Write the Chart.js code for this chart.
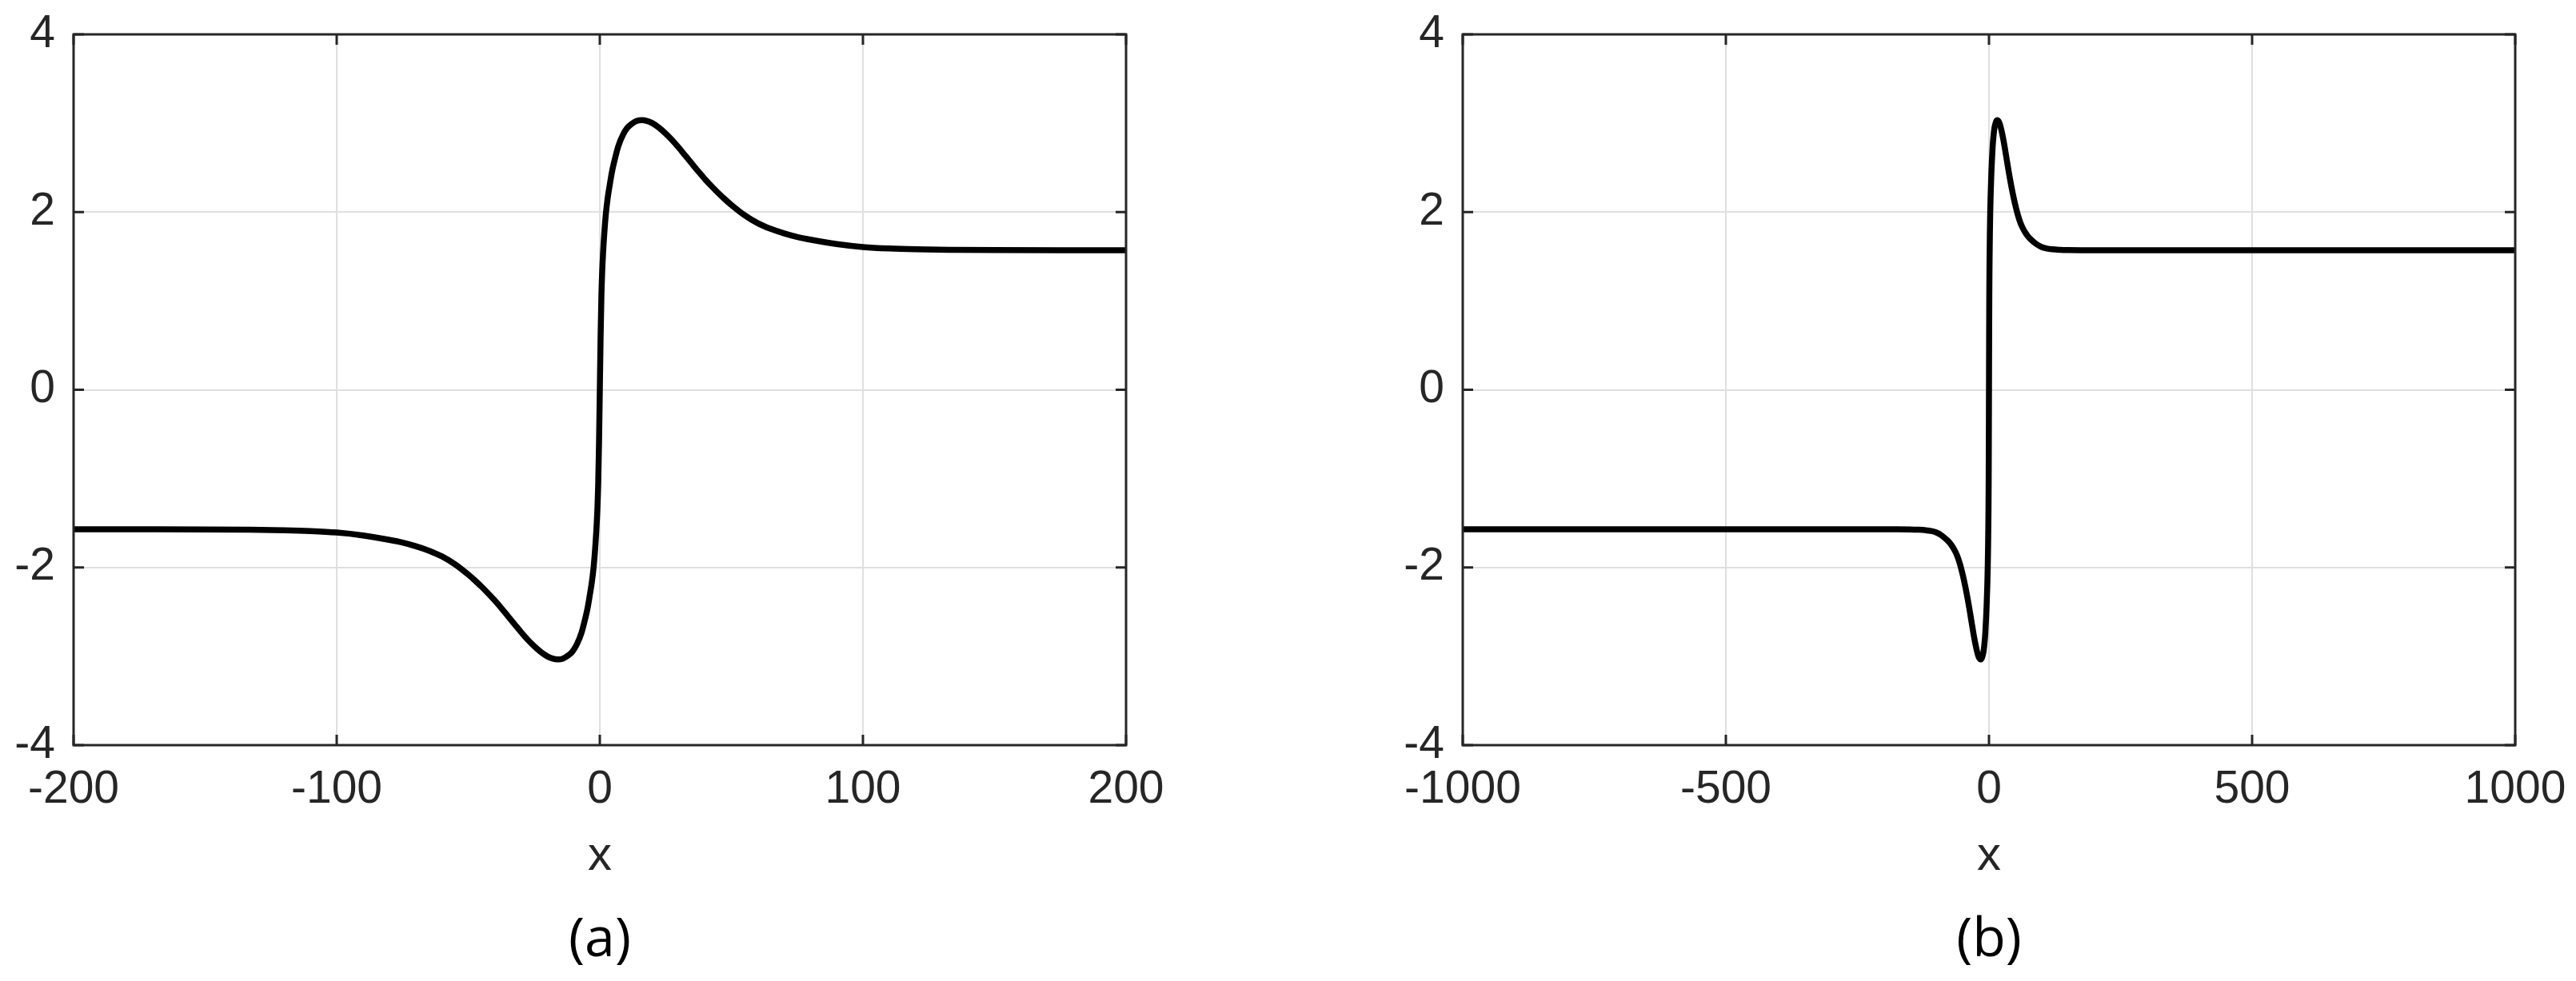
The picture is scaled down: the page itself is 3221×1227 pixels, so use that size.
<!DOCTYPE html>
<html>
<head>
<meta charset="utf-8">
<title>Kink profile</title>
<script src="https://cdn.jsdelivr.net/npm/chart.js@4.4.1/dist/chart.umd.min.js"></script>
<style>
  html, body { margin: 0; padding: 0; background: #fff; }
  #wrap { position: relative; width: 3221px; height: 1227px; overflow: hidden; }
  canvas { position: absolute; top: 0; }
  #chartA { left: 0; }
  #chartB { left: 1610px; }
  .panel-label {
    position: absolute; top: 1170px;
    font-family: 'Open Sans', sans-serif; font-size: 68px; line-height: 1;
    color: #000; transform: translate(-50%, -50%);
  }
</style>
</head>
<body>
<div id="wrap">
  <canvas id="chartA" width="1610" height="1227"></canvas>
  <canvas id="chartB" width="1611" height="1227"></canvas>
  <div class="panel-label" style="left:750px">(a)</div>
  <div class="panel-label" style="left:2487px">(b)</div>
</div>
<script>
// ============================================
// Profile of the same curve on two x ranges
// ============================================

// Curve
const xValues = [
  -200, -175, -150, -135, -120, -110, -100, -90, -80, -75, -70, -65, -60, -55, -50,
  -47.5, -45, -42.5, -40, -37.5, -35, -32.5, -30, -27.5, -25, -22.5, -20, -18, -16,
  -14, -12, -10.5, -8.8, -7, -5.5, -4.6, -3.8, -3, -2.3, -1.7, -1.2, -0.9, -0.6, -0.3,
  0, 0.3, 0.6, 0.9, 1.2, 1.7, 2.3, 3, 3.8, 4.6, 5.5, 7, 8.8, 10.5, 12, 14, 16, 18, 20,
  22.5, 25, 27.5, 30, 32.5, 35, 37.5, 40, 42.5, 45, 47.5, 50, 55, 60, 65, 70, 75, 80,
  90, 100, 110, 120, 135, 150, 175, 200
];
const yValues = [
  -1.571, -1.571, -1.572, -1.575, -1.581, -1.59, -1.607, -1.64, -1.69, -1.72, -1.76, -1.81, -1.875, -1.965, -2.08,
  -2.145, -2.215, -2.29, -2.37, -2.455, -2.545, -2.635, -2.725, -2.81, -2.885, -2.95, -3.00, -3.025, -3.035,
  -3.025, -2.99, -2.95, -2.87, -2.74, -2.57, -2.45, -2.31, -2.16, -1.98, -1.76, -1.52, -1.33, -1.05, -0.60,
  0, 0.60, 1.05, 1.33, 1.52, 1.76, 1.98, 2.16, 2.31, 2.45, 2.57, 2.74, 2.87, 2.95, 2.99, 3.025, 3.035, 3.025, 3.00,
  2.95, 2.885, 2.81, 2.725, 2.635, 2.545, 2.455, 2.37, 2.29, 2.215, 2.145, 2.08, 1.965, 1.875, 1.81, 1.76, 1.72, 1.69,
  1.64, 1.607, 1.59, 1.581, 1.575, 1.572, 1.571, 1.571
];

// Flat tails seen in panel (b)
const tailX = [-1000, 1000];
const tailY = [-1.571, 1.571];

// Axis ranges and ticks
const xRangeA = [-200, 200];
const xStepA = 100;
const xRangeB = [-1000, 1000];
const xStepB = 500;
const yRange = [-4, 4];
const yStep = 2;
const xTitle = 'x';

const AXIS_COLOR = '#262626';
const GRID_COLOR = '#dfdfdf';
const TICK_LEN = 13;
const TICK_FONT = { family: "'Liberation Sans', Arial, sans-serif", size: 57, lineHeight: 1.2 };

// Closed box with inward ticks, drawn over the data
const frameAndTicks = {
  id: 'frameAndTicks',
  afterDatasetsDraw(chart) {
    const { ctx, chartArea: a, scales: { x, y } } = chart;
    ctx.save();
    ctx.strokeStyle = AXIS_COLOR;
    ctx.lineWidth = 3;
    ctx.beginPath();
    x.ticks.forEach(t => {
      const px = x.getPixelForValue(t.value);
      ctx.moveTo(px, a.bottom); ctx.lineTo(px, a.bottom - TICK_LEN);
      ctx.moveTo(px, a.top); ctx.lineTo(px, a.top + TICK_LEN);
    });
    y.ticks.forEach(t => {
      const py = y.getPixelForValue(t.value);
      ctx.moveTo(a.left, py); ctx.lineTo(a.left + TICK_LEN, py);
      ctx.moveTo(a.right, py); ctx.lineTo(a.right - TICK_LEN, py);
    });
    ctx.stroke();
    ctx.strokeRect(a.left, a.top, a.right - a.left, a.bottom - a.top);
    ctx.restore();
  }
};

function makePoints(xs, ys) {
  return xs.map((v, i) => ({ x: v, y: ys[i] }));
}

function renderPanel(id, points, xRange, xStep, yAxisWidth, rightPad) {
  new Chart(document.getElementById(id), {
    type: 'line',
    data: {
      datasets: [{
        data: points,
        borderColor: '#000',
        borderWidth: 7.5,
        pointRadius: 0,
        cubicInterpolationMode: 'monotone',
        fill: false
      }]
    },
    options: {
      responsive: false,
      animation: false,
      layout: { padding: { top: 43, right: rightPad, bottom: 0, left: 0 } },
      plugins: { legend: { display: false }, tooltip: { enabled: false } },
      scales: {
        x: {
          type: 'linear',
          min: xRange[0],
          max: xRange[1],
          afterFit: s => { s.height = 295; s.paddingLeft = 0; s.paddingRight = 0; },
          ticks: { stepSize: xStep, color: AXIS_COLOR, font: TICK_FONT, padding: 22, maxRotation: 0, callback: v => String(v) },
          grid: { color: GRID_COLOR, lineWidth: 2, drawTicks: false },
          border: { display: false },
          title: { display: true, text: xTitle, color: AXIS_COLOR, font: { family: TICK_FONT.family, size: 60, lineHeight: 1.2 }, padding: { top: 0, bottom: 120 } }
        },
        y: {
          min: yRange[0],
          max: yRange[1],
          afterFit: s => { s.width = yAxisWidth; s.paddingTop = 0; s.paddingBottom = 0; },
          ticks: { stepSize: yStep, color: AXIS_COLOR, font: TICK_FONT, padding: 23, callback: v => String(v) },
          grid: { color: GRID_COLOR, lineWidth: 2, drawTicks: false },
          border: { display: false }
        }
      }
    },
    plugins: [frameAndTicks]
  });
}

renderPanel('chartA', makePoints(xValues, yValues), xRangeA, xStepA, 92, 202);
renderPanel('chartB', makePoints([tailX[0], ...xValues, tailX[1]], [tailY[0], ...yValues, tailY[1]]), xRangeB, xStepB, 219, 76);
</script>
</body>
</html>
